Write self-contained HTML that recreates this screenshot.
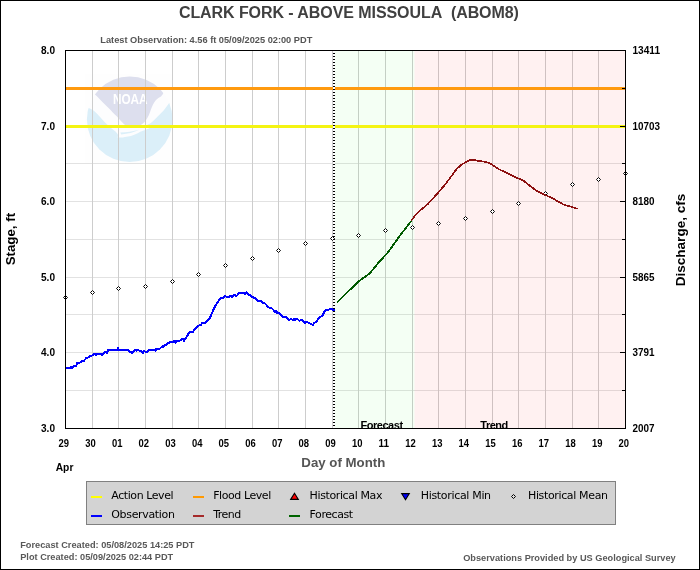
<!DOCTYPE html>
<html lang="en"><head><meta charset="utf-8"><title>CLARK FORK - ABOVE MISSOULA (ABOM8)</title>
<style>html,body{margin:0;padding:0;background:#fff}body{width:700px;height:570px;overflow:hidden}svg{display:block;will-change:transform}text{font-family:"Liberation Sans",sans-serif;font-weight:bold}.lg text{font-family:"DejaVu Sans","Liberation Sans",sans-serif;font-weight:normal;font-size:11px;fill:#000}</style></head><body>
<svg width="700" height="570" viewBox="0 0 700 570">
<rect x="0" y="0" width="700" height="570" fill="#fff"/>
<defs><clipPath id="pc"><rect x="66" y="51" width="559" height="377"/></clipPath><clipPath id="lc"><circle cx="129.7" cy="119.3" r="42.8"/></clipPath></defs>
<rect x="85" y="74" width="87" height="89" fill="#fefefe"/>
<g clip-path="url(#lc)" shape-rendering="auto">
<rect x="80" y="70" width="100" height="100" fill="#fdfdfe"/>
<path d="M84 94.3 L94.7 94.3 C97 96.5 99 98.5 100.5 100 C103.5 103 106 105.5 108.8 108.3 C111.5 111 114 114 117 116.6 C119.5 119.5 122 122.5 124 124.2 C125.3 125.2 126.6 125.9 128 126.3 C129.6 126.8 131.3 127 133 127 C134.7 127 136.4 126.8 138 126.3 C139.7 125.7 141.2 124.8 142.6 123.7 C143.8 122.8 144.9 121.7 145.8 120.5 C147 118.8 148 117 148.9 115 C149.7 113.2 150.3 111.4 150.9 109.5 C151.5 107.9 152.1 106.3 152.9 104.7 C153.8 103 154.8 101.5 156 100 C157.5 98.6 159.2 97.5 161 96.5 C162.2 95.3 163.1 94 163.8 92.6 L176 90 L176 70 L84 70 Z" fill="#dddfee"/>
<path d="M84 106 L87.6 107.5 C90 108.5 92 109.6 93.9 110.8 C96.3 112.8 98.5 115 100.5 117.4 C102 119 103.5 121 105 122.6 C106.8 124.2 108.5 125.8 110.3 127.4 C112 128.8 113.8 130.2 115.5 131.6 C116.6 132.8 117.6 134 118.3 135.2 C118.2 136 117.7 136.7 117.1 137.3 C120 137.8 122.6 137.6 125 137 C127 136.8 129 136.5 131 136 C132.8 135.5 134.5 134.8 136 134 C137.5 133.3 139 132.6 140.3 131.8 C142 131 144 130.4 145.8 129.8 C147.2 129.3 148.5 128.8 149.5 128.2 C149.3 127 148.3 126 147 125 C148 124.5 148.9 124.1 149.7 123.7 C151.1 122.7 152.4 121.6 153.7 120.5 C155.1 119.3 156.4 118 157.6 116.6 C159 115.3 160.4 114 161.6 112.6 C163 111.1 164.3 109.5 165.5 107.9 C166.9 106.1 168.3 104.3 169.5 102.4 L176 100 L176 166 L84 166 Z" fill="#dbeff9"/>
<path d="M120.3 132.6 C126.5 132.4 133 131.4 139.2 129.8 C134 132.4 127.5 134 121.2 134.5 Z" fill="#dbeff9"/>
<text x="112.9" y="104.2" font-size="15" textLength="34.6" lengthAdjust="spacingAndGlyphs" fill="#fff" style="font-weight:bold">NOAA</text>
</g>
<g shape-rendering="crispEdges" fill="none">
<line x1="66" x2="625" y1="88.5" y2="88.5" stroke="#e2e2e2"/>
<line x1="66" x2="625" y1="126.5" y2="126.5" stroke="#e2e2e2"/>
<line x1="66" x2="625" y1="163.5" y2="163.5" stroke="#e2e2e2"/>
<line x1="66" x2="625" y1="201.5" y2="201.5" stroke="#e2e2e2"/>
<line x1="66" x2="625" y1="239.5" y2="239.5" stroke="#e2e2e2"/>
<line x1="66" x2="625" y1="277.5" y2="277.5" stroke="#e2e2e2"/>
<line x1="66" x2="625" y1="314.5" y2="314.5" stroke="#e2e2e2"/>
<line x1="66" x2="625" y1="352.5" y2="352.5" stroke="#e2e2e2"/>
<line x1="66" x2="625" y1="390.5" y2="390.5" stroke="#e2e2e2"/>
<line x1="92.5" x2="92.5" y1="51" y2="428" stroke="#cdcdcd"/>
<line x1="118.5" x2="118.5" y1="51" y2="428" stroke="#cdcdcd"/>
<line x1="145.5" x2="145.5" y1="51" y2="428" stroke="#cdcdcd"/>
<line x1="172.5" x2="172.5" y1="51" y2="428" stroke="#cdcdcd"/>
<line x1="198.5" x2="198.5" y1="51" y2="428" stroke="#cdcdcd"/>
<line x1="225.5" x2="225.5" y1="51" y2="428" stroke="#cdcdcd"/>
<line x1="252.5" x2="252.5" y1="51" y2="428" stroke="#cdcdcd"/>
<line x1="278.5" x2="278.5" y1="51" y2="428" stroke="#cdcdcd"/>
<line x1="305.5" x2="305.5" y1="51" y2="428" stroke="#cdcdcd"/>
<line x1="332.5" x2="332.5" y1="51" y2="428" stroke="#cdcdcd"/>
<line x1="358.5" x2="358.5" y1="51" y2="428" stroke="#cdcdcd"/>
<line x1="385.5" x2="385.5" y1="51" y2="428" stroke="#cdcdcd"/>
<line x1="412.5" x2="412.5" y1="51" y2="428" stroke="#cdcdcd"/>
<line x1="438.5" x2="438.5" y1="51" y2="428" stroke="#cdcdcd"/>
<line x1="465.5" x2="465.5" y1="51" y2="428" stroke="#cdcdcd"/>
<line x1="492.5" x2="492.5" y1="51" y2="428" stroke="#cdcdcd"/>
<line x1="518.5" x2="518.5" y1="51" y2="428" stroke="#cdcdcd"/>
<line x1="545.5" x2="545.5" y1="51" y2="428" stroke="#cdcdcd"/>
<line x1="572.5" x2="572.5" y1="51" y2="428" stroke="#cdcdcd"/>
<line x1="598.5" x2="598.5" y1="51" y2="428" stroke="#cdcdcd"/>
</g>
<rect x="335" y="51" width="79.5" height="377" fill="rgb(0,255,0)" fill-opacity="0.045"/>
<rect x="414.5" y="51" width="210.5" height="377" fill="rgb(255,0,0)" fill-opacity="0.055"/>
<g shape-rendering="crispEdges">
<rect x="66" y="87" width="559" height="3" fill="#ff9a0f"/>
<rect x="66" y="125" width="559" height="3" fill="#f4f412"/>
</g>
<rect x="333" y="51" width="2" height="377" fill="#fff"/>
<line x1="334" x2="334" y1="53" y2="428" stroke="#000" stroke-width="2" stroke-dasharray="1 2" shape-rendering="crispEdges"/>
<g fill="#fff" stroke="#000" stroke-width="1">
<path d="M63.5 297.5L65.5 295.5L67.5 297.5L65.5 299.5Z"/>
<path d="M90.5 292.5L92.5 290.5L94.5 292.5L92.5 294.5Z"/>
<path d="M116.5 288.5L118.5 286.5L120.5 288.5L118.5 290.5Z"/>
<path d="M143.5 286.5L145.5 284.5L147.5 286.5L145.5 288.5Z"/>
<path d="M170.5 281.5L172.5 279.5L174.5 281.5L172.5 283.5Z"/>
<path d="M196.5 274.5L198.5 272.5L200.5 274.5L198.5 276.5Z"/>
<path d="M223.5 265.5L225.5 263.5L227.5 265.5L225.5 267.5Z"/>
<path d="M250.5 258.5L252.5 256.5L254.5 258.5L252.5 260.5Z"/>
<path d="M276.5 250.5L278.5 248.5L280.5 250.5L278.5 252.5Z"/>
<path d="M303.5 243.5L305.5 241.5L307.5 243.5L305.5 245.5Z"/>
<path d="M330.5 238.5L332.5 236.5L334.5 238.5L332.5 240.5Z"/>
<path d="M356.5 235.5L358.5 233.5L360.5 235.5L358.5 237.5Z"/>
<path d="M383.5 230.5L385.5 228.5L387.5 230.5L385.5 232.5Z"/>
<path d="M410.5 227.5L412.5 225.5L414.5 227.5L412.5 229.5Z"/>
<path d="M436.5 223.5L438.5 221.5L440.5 223.5L438.5 225.5Z"/>
<path d="M463.5 218.5L465.5 216.5L467.5 218.5L465.5 220.5Z"/>
<path d="M490.5 211.5L492.5 209.5L494.5 211.5L492.5 213.5Z"/>
<path d="M516.5 203.5L518.5 201.5L520.5 203.5L518.5 205.5Z"/>
<path d="M543.5 193.5L545.5 191.5L547.5 193.5L545.5 195.5Z"/>
<path d="M570.5 184.5L572.5 182.5L574.5 184.5L572.5 186.5Z"/>
<path d="M596.5 179.5L598.5 177.5L600.5 179.5L598.5 181.5Z"/>
<path d="M623.5 173.5L625.5 171.5L627.5 173.5L625.5 175.5Z"/>
</g>
<g clip-path="url(#pc)" fill="none" stroke-linejoin="round" stroke-linecap="butt" shape-rendering="crispEdges">
<polyline points="65.5,368.0 69.6,368.0 71.1,366.8 72.1,368.0 73.6,366.1 76.1,366.1 77.1,363.2 79.6,362.9 81.8,361.1 83.9,360.9 86.1,358.2 87.9,357.5 89.6,356.4 91.8,355.6 94.3,353.9 96.4,355.0 97.5,353.9 101.4,353.9 102.1,355.0 103.6,352.9 105.7,351.8 106.8,352.9 108.2,350.0 115.0,350.0 117.1,349.9 118.2,347.9 118.9,350.0 128.2,350.0 130.4,352.0 132.5,352.9 135.7,349.6 136.4,350.9 137.9,349.6 139.6,350.9 141.4,351.1 142.9,352.9 144.3,350.9 145.7,352.1 147.5,352.0 148.6,350.0 154.6,350.0 155.7,350.9 156.4,348.9 159.6,348.9 162.1,346.4 163.6,346.8 165.0,345.0 166.4,344.6 168.6,342.9 170.7,342.0 173.6,342.0 174.6,340.7 175.6,342.5 176.8,340.9 179.6,340.9 180.7,339.9 182.9,338.6 183.9,341.1 185.7,338.2 187.9,335.0 189.3,332.1 192.9,331.8 195.0,328.6 197.9,325.7 200.7,325.0 202.5,322.7 205.6,322.6 207.5,320.7 209.9,317.9 211.1,315.2 212.1,312.7 213.0,310.6 214.2,308.1 215.7,305.0 217.9,302.0 219.4,299.2 221.0,298.0 223.1,298.0 225.0,295.8 226.4,296.8 229.3,296.8 230.9,295.7 232.5,297.1 234.3,294.6 235.7,296.1 237.1,295.4 239.3,292.7 243.6,292.7 245.0,293.9 246.4,292.5 248.2,294.6 250.0,295.0 252.1,297.1 254.6,297.9 257.5,300.7 261.4,300.9 261.8,302.5 264.5,302.9 267.4,306.1 269.5,308.0 271.6,308.0 273.4,310.0 274.9,312.1 276.3,310.9 277.0,312.9 278.8,312.9 280.9,315.0 283.4,317.0 285.6,317.0 287.7,318.9 289.5,320.0 290.9,318.6 292.7,320.0 294.5,318.9 295.2,320.0 297.0,318.6 299.5,320.9 300.9,319.6 303.1,320.9 305.2,322.9 306.8,321.8 308.7,322.8 311.1,324.0 313.0,324.9 314.2,323.0 316.1,321.8 318.2,319.0 320.4,316.9 322.5,315.8 324.0,312.6 325.3,310.1 328.6,309.8 330.2,308.9 332.0,309.2 333.6,310.1 334.8,310.1" stroke="#0000ff" stroke-width="2"/>
<polyline points="336.9,302.7 347.4,292.2 359.3,280.9 369.8,273.4 378.7,262.4 387.7,252.8 399.6,236.1 411.6,220.6" stroke="#005a00" stroke-width="1.8"/>
<polyline points="411.4,220.6 414.8,215.9 420.5,210.2 428.0,203.9 433.7,197.6 439.9,190.8 445.6,183.9 449.0,179.4 453.6,173.1 457.0,168.6 461.6,164.6 465.6,162.3 468.7,160.6 470.3,159.8 473.9,159.8 477.0,160.7 481.0,161.2 485.9,162.0 489.9,163.2 491.6,164.5 493.9,165.8 499.0,169.3 506.7,172.9 515.7,177.4 523.4,180.6 529.8,185.7 537.6,191.5 545.3,195.0 553.0,198.6 559.4,202.4 564.6,205.0 569.7,206.3 577.6,208.8" stroke="#8c1010" stroke-width="1.7"/>
</g>
<g clip-path="url(#pc)" font-size="11" fill="#000">
<text x="360.4" y="429" textLength="42.7" lengthAdjust="spacing">Forecast</text>
<text x="480.3" y="429" textLength="28" lengthAdjust="spacing">Trend</text>
</g>
<g shape-rendering="crispEdges" stroke="#000" fill="none">
<rect x="65.5" y="50.5" width="560" height="378"/>
<line x1="622" x2="625" y1="88.5" y2="88.5"/>
<line x1="620" x2="625" y1="126.5" y2="126.5"/>
<line x1="622" x2="625" y1="163.5" y2="163.5"/>
<line x1="620" x2="625" y1="201.5" y2="201.5"/>
<line x1="622" x2="625" y1="239.5" y2="239.5"/>
<line x1="620" x2="625" y1="277.5" y2="277.5"/>
<line x1="622" x2="625" y1="314.5" y2="314.5"/>
<line x1="620" x2="625" y1="352.5" y2="352.5"/>
<line x1="622" x2="625" y1="390.5" y2="390.5"/>
</g>
<rect x="0.5" y="0.5" width="699" height="569" fill="none" stroke="#000" shape-rendering="crispEdges"/>
<text x="178.9" y="17.7" font-size="16" fill="#404040" textLength="340" lengthAdjust="spacing">CLARK FORK - ABOVE MISSOULA&#160;&#160;(ABOM8)</text>
<text x="100.3" y="42.6" font-size="9.4" fill="#555" textLength="212" lengthAdjust="spacingAndGlyphs">Latest Observation: 4.56 ft 05/09/2025 02:00 PDT</text>
<g font-size="11" fill="#000">
<text x="41" y="432.0" textLength="14" lengthAdjust="spacingAndGlyphs">3.0</text>
<text x="41" y="356.4" textLength="14" lengthAdjust="spacingAndGlyphs">4.0</text>
<text x="41" y="280.8" textLength="14" lengthAdjust="spacingAndGlyphs">5.0</text>
<text x="41" y="205.2" textLength="14" lengthAdjust="spacingAndGlyphs">6.0</text>
<text x="41" y="129.6" textLength="14" lengthAdjust="spacingAndGlyphs">7.0</text>
<text x="41" y="54.0" textLength="14" lengthAdjust="spacingAndGlyphs">8.0</text>
<text x="632.5" y="432.0" textLength="22" lengthAdjust="spacingAndGlyphs">2007</text>
<text x="632.5" y="356.4" textLength="22" lengthAdjust="spacingAndGlyphs">3791</text>
<text x="632.5" y="280.8" textLength="22" lengthAdjust="spacingAndGlyphs">5865</text>
<text x="632.5" y="205.2" textLength="22" lengthAdjust="spacingAndGlyphs">8180</text>
<text x="632.5" y="129.6" textLength="27.5" lengthAdjust="spacingAndGlyphs">10703</text>
<text x="632.5" y="54.0" textLength="27.5" lengthAdjust="spacingAndGlyphs">13411</text>
<text x="58.5" y="447" textLength="10.5" lengthAdjust="spacingAndGlyphs">29</text>
<text x="85.2" y="447" textLength="10.5" lengthAdjust="spacingAndGlyphs">30</text>
<text x="111.9" y="447" textLength="10.5" lengthAdjust="spacingAndGlyphs">01</text>
<text x="138.6" y="447" textLength="10.5" lengthAdjust="spacingAndGlyphs">02</text>
<text x="165.2" y="447" textLength="10.5" lengthAdjust="spacingAndGlyphs">03</text>
<text x="191.9" y="447" textLength="10.5" lengthAdjust="spacingAndGlyphs">04</text>
<text x="218.6" y="447" textLength="10.5" lengthAdjust="spacingAndGlyphs">05</text>
<text x="245.2" y="447" textLength="10.5" lengthAdjust="spacingAndGlyphs">06</text>
<text x="271.9" y="447" textLength="10.5" lengthAdjust="spacingAndGlyphs">07</text>
<text x="298.6" y="447" textLength="10.5" lengthAdjust="spacingAndGlyphs">08</text>
<text x="325.2" y="447" textLength="10.5" lengthAdjust="spacingAndGlyphs">09</text>
<text x="351.9" y="447" textLength="10.5" lengthAdjust="spacingAndGlyphs">10</text>
<text x="378.6" y="447" textLength="10.5" lengthAdjust="spacingAndGlyphs">11</text>
<text x="405.2" y="447" textLength="10.5" lengthAdjust="spacingAndGlyphs">12</text>
<text x="431.9" y="447" textLength="10.5" lengthAdjust="spacingAndGlyphs">13</text>
<text x="458.6" y="447" textLength="10.5" lengthAdjust="spacingAndGlyphs">14</text>
<text x="485.2" y="447" textLength="10.5" lengthAdjust="spacingAndGlyphs">15</text>
<text x="511.9" y="447" textLength="10.5" lengthAdjust="spacingAndGlyphs">16</text>
<text x="538.5" y="447" textLength="10.5" lengthAdjust="spacingAndGlyphs">17</text>
<text x="565.2" y="447" textLength="10.5" lengthAdjust="spacingAndGlyphs">18</text>
<text x="591.9" y="447" textLength="10.5" lengthAdjust="spacingAndGlyphs">19</text>
<text x="618.5" y="447" textLength="10.5" lengthAdjust="spacingAndGlyphs">20</text>
<text x="55.7" y="471.4" textLength="17.7" lengthAdjust="spacingAndGlyphs">Apr</text>
</g>
<text x="301.3" y="467" font-size="13.5" fill="#555" textLength="84" lengthAdjust="spacingAndGlyphs">Day of Month</text>
<text transform="translate(15,265.3) rotate(-90)" font-size="13.6" fill="#000" textLength="52.4" lengthAdjust="spacingAndGlyphs">Stage, ft</text>
<text transform="translate(684.5,286.3) rotate(-90)" font-size="13.6" fill="#000" textLength="92.6" lengthAdjust="spacingAndGlyphs">Discharge, cfs</text>
<g font-size="9.4" fill="#595959">
<text x="20.2" y="547.8" textLength="174.3" lengthAdjust="spacingAndGlyphs">Forecast Created: 05/08/2025 14:25 PDT</text>
<text x="20.2" y="559.7" textLength="153" lengthAdjust="spacingAndGlyphs">Plot Created: 05/09/2025 02:44 PDT</text>
<text x="463.2" y="560.7" textLength="212.5" lengthAdjust="spacingAndGlyphs">Observations Provided by US Geological Survey</text>
</g>
<g class="lg">
<rect x="86.5" y="481.5" width="529" height="43" fill="#d3d3d3" stroke="#808080" shape-rendering="crispEdges"/>
<g shape-rendering="crispEdges">
<rect x="91" y="496" width="11" height="2" fill="#ffff00"/>
<rect x="91" y="515" width="11" height="2" fill="#0000ff"/>
<rect x="193" y="496" width="11" height="2" fill="#ff9900"/>
<rect x="193" y="515" width="11" height="2" fill="#a52a2a"/>
<rect x="289" y="515" width="11" height="2" fill="#006400"/>
</g>
<path d="M290.7 499.4 L294.5 493.2 L298.3 499.4 Z" fill="#ff0000" stroke="#000" stroke-width="1.1" stroke-linejoin="miter"/>
<path d="M401.7 493.6 L409.3 493.6 L405.5 499.8 Z" fill="#0000ff" stroke="#000" stroke-width="1.1" stroke-linejoin="miter"/>
<path d="M511.5 496.5 L513.5 494.5 L515.5 496.5 L513.5 498.5 Z" fill="#dcdcdc" stroke="#000" stroke-width="1"/>
<text x="111.3" y="499" textLength="62.3" lengthAdjust="spacing">Action Level</text>
<text x="111.3" y="518" textLength="63.6" lengthAdjust="spacing">Observation</text>
<text x="213.2" y="499" textLength="58" lengthAdjust="spacing">Flood Level</text>
<text x="213.2" y="518" textLength="28" lengthAdjust="spacing">Trend</text>
<text x="309.6" y="499" textLength="72.8" lengthAdjust="spacing">Historical Max</text>
<text x="309.6" y="518" textLength="43.6" lengthAdjust="spacing">Forecast</text>
<text x="420.7" y="499" textLength="70.4" lengthAdjust="spacing">Historical Min</text>
<text x="528" y="499" textLength="80" lengthAdjust="spacing">Historical Mean</text>
</g>
</svg></body></html>
